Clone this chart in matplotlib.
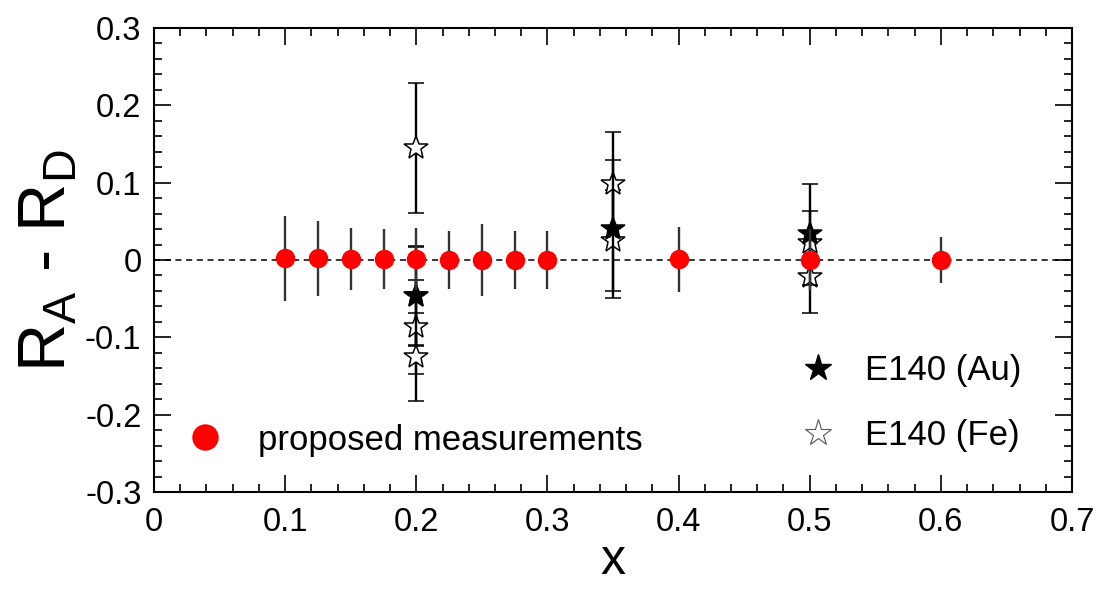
import matplotlib
matplotlib.use("Agg")
import matplotlib.pyplot as plt
from matplotlib.lines import Line2D
from matplotlib.ticker import MultipleLocator

plt.rcParams['font.family'] = ['Liberation Sans', 'DejaVu Sans']
plt.rcParams['axes.unicode_minus'] = False

# proposed measurements
prop_x = [0.1, 0.125, 0.15, 0.175, 0.2, 0.225, 0.25, 0.275, 0.3, 0.4, 0.5, 0.6]
prop_y = [0.002, 0.002, 0.001, 0.001, 0.001, 0.0, 0.0, 0.0, 0.0, 0.001, 0.0, 0.0]
prop_err = [0.055, 0.049, 0.040, 0.039, 0.040, 0.038, 0.046, 0.037, 0.038, 0.042, 0.040, 0.030]

# E140 (Au) - filled stars
au_x = [0.2, 0.35, 0.5]
au_y = [-0.046, 0.040, 0.033]
au_err = [0.064, 0.089, 0.065]

# E140 (Fe) - open stars
fe_x = [0.2, 0.2, 0.2, 0.2, 0.35, 0.35, 0.5, 0.5]
fe_y = [0.145, -0.047, -0.087, -0.125, 0.098, 0.025, 0.022, -0.022]
fe_err = [0.084, 0.064, 0.061, 0.057, 0.068, 0.065, 0.041, 0.047]

xticks = [0, 0.1, 0.2, 0.3, 0.4, 0.5, 0.6, 0.7]
xticklabels = ['0', '0.1', '0.2', '0.3', '0.4', '0.5', '0.6', '0.7']
yticks = [-0.3, -0.2, -0.1, 0, 0.1, 0.2, 0.3]
yticklabels = ['-0.3', '-0.2', '-0.1', '0', '0.1', '0.2', '0.3']

fig = plt.figure(figsize=(11.01, 5.89), dpi=100)
ax = fig.add_axes([154 / 1101, 1 - 492 / 589, (1072 - 154) / 1101, (492 - 28) / 589])

ax.axhline(0, color='black', lw=1.1, ls=(0, (4, 3)), zorder=1)

ax.errorbar(fe_x, fe_y, yerr=fe_err, fmt='*', ms=18, mfc='white', mec='black',
            mew=1.1, ecolor='black', elinewidth=1.7, capsize=6, capthick=1.7, zorder=2)
ax.errorbar(au_x, au_y, yerr=au_err, fmt='*', ms=18, mfc='black', mec='black',
            mew=1.1, ecolor='black', elinewidth=1.7, capsize=6, capthick=1.7, zorder=3)
ax.errorbar(prop_x, prop_y, yerr=prop_err, fmt='o', ms=13, mfc='#ff0000', mec='#ff0000',
            ecolor='#333333', elinewidth=1.7, capsize=0, zorder=4)

ax.set_xlim(0, 0.7)
ax.set_ylim(-0.3, 0.3)
ax.set_xticks(xticks)
ax.set_xticklabels(xticklabels)
ax.set_yticks(yticks)
ax.set_yticklabels(yticklabels)
ax.xaxis.set_minor_locator(MultipleLocator(0.02))
ax.yaxis.set_minor_locator(MultipleLocator(0.02))
ax.tick_params(which='both', direction='in', top=True, right=True, width=1.2)
ax.tick_params(which='major', length=12, labelsize=23.5)
ax.tick_params(axis='x', which='major', pad=11)
ax.tick_params(axis='y', which='major', pad=9)
ax.tick_params(which='minor', length=6)
for s in ax.spines.values():
    s.set_linewidth(1.5)

ax.set_xlabel('x', fontsize=36, labelpad=0)
ax.set_ylabel(r'R$_\mathregular{A}$ - R$_\mathregular{D}$', fontsize=48, labelpad=4)

h_prop = Line2D([], [], ls='none', marker='o', ms=18, mfc='#ff0000', mec='#ff0000')
leg1 = ax.legend([h_prop], ['proposed measurements'], loc='center left',
                 bbox_to_anchor=(0.0327, 0.112), frameon=False, fontsize=25,
                 handlelength=1.2, handletextpad=0.93, borderpad=0, borderaxespad=0)
ax.add_artist(leg1)

h_au = Line2D([], [], ls='none', marker='*', ms=20, mfc='black', mec='black')
h_fe = Line2D([], [], ls='none', marker='*', ms=20, mfc='white', mec='#555555', mew=0.8)
ax.legend([h_au, h_fe], ['E140 (Au)', 'E140 (Fe)'], loc='center left',
          bbox_to_anchor=(0.7005, 0.192), frameon=False, fontsize=25,
          handlelength=1.2, handletextpad=0.76, labelspacing=0.93,
          borderpad=0, borderaxespad=0)

fig.savefig('out.png', dpi=100)
